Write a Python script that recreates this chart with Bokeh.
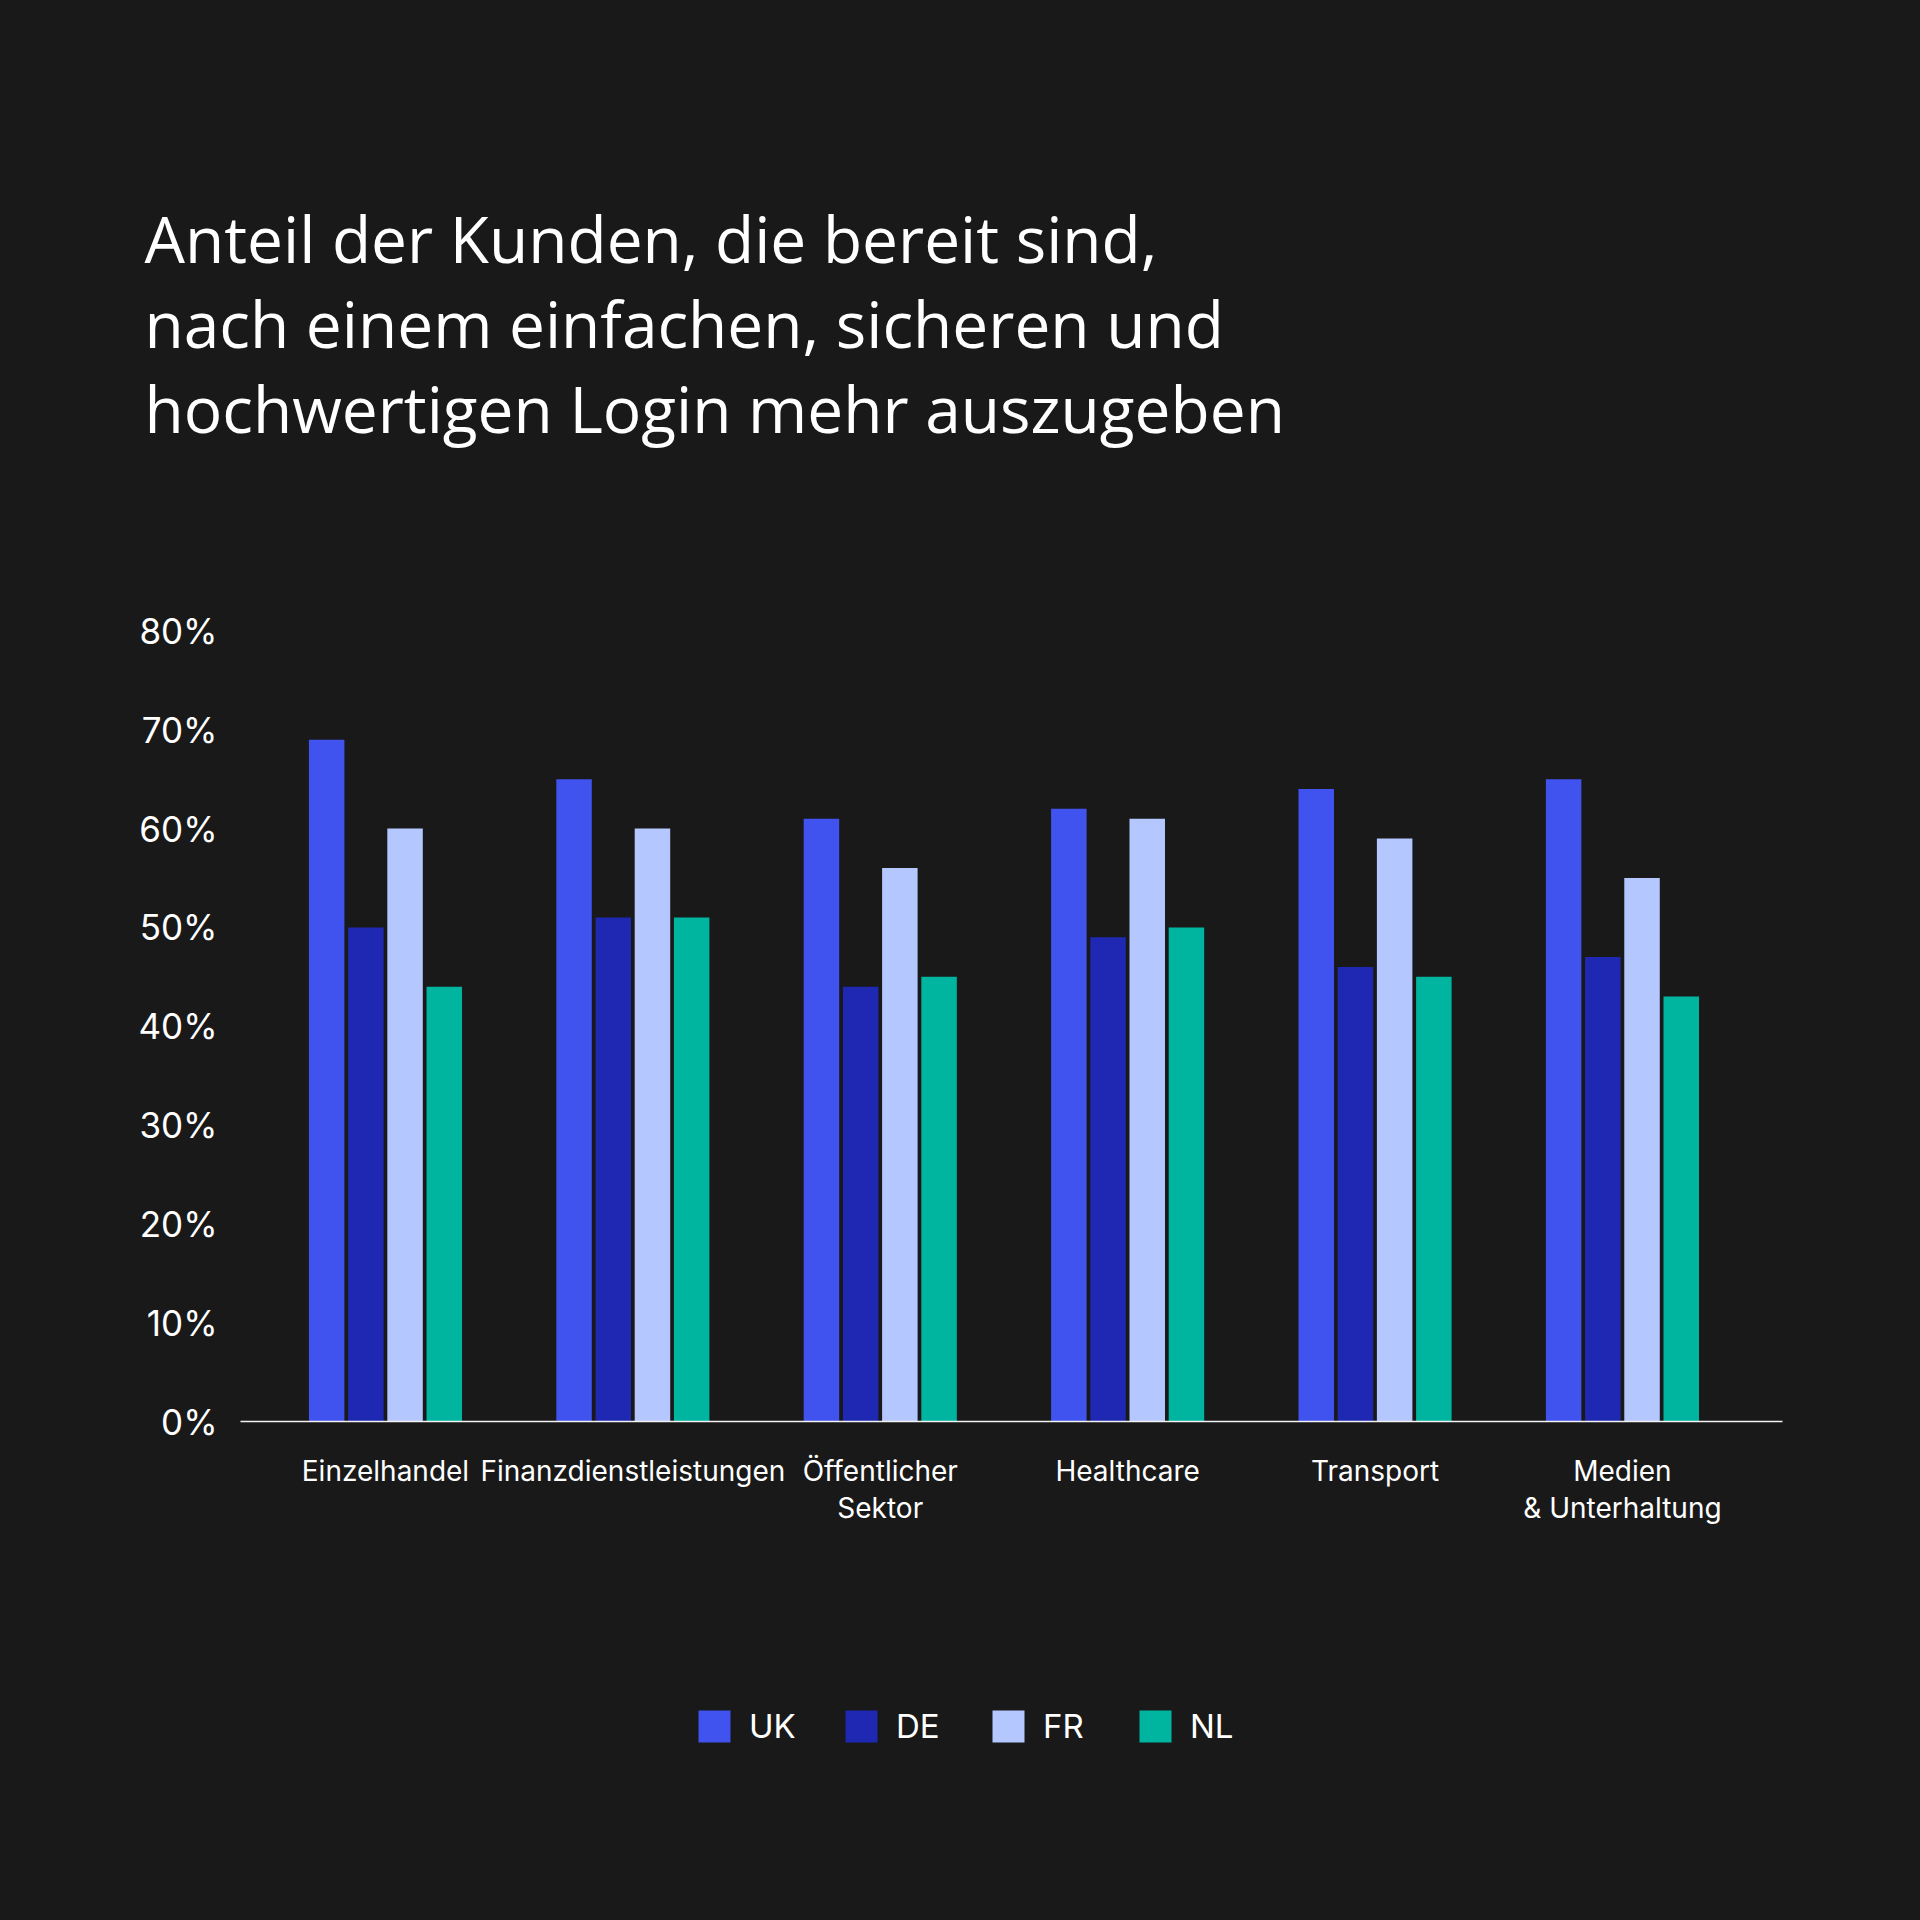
from bokeh.plotting import figure
from bokeh.layouts import column
from bokeh.models import Range1d, FixedTicker, Legend, LegendItem, Title, ColumnDataSource
from bokeh.transform import dodge
from bokeh.embed import file_html
from bokeh.resources import INLINE

# ---- data ----
categories = ["Einzelhandel", "Finanzdienstleistungen", "Öffentlicher\nSektor",
              "Healthcare", "Transport", "Medien\n& Unterhaltung"]
series = ["UK", "DE", "FR", "NL"]
uk = [69, 65, 61, 62, 64, 65]
de = [50, 51, 44, 49, 46, 47]
fr = [60, 60, 56, 61, 59, 55]
nl = [44, 51, 45, 50, 45, 43]
y_ticks = [0, 10, 20, 30, 40, 50, 60, 70, 80]
y_tick_labels = ["0%", "10%", "20%", "30%", "40%", "50%", "60%", "70%", "80%"]
title_lines = ["Anteil der Kunden, die bereit sind,",
               "nach einem einfachen, sicheren und",
               "hochwertigen Login mehr auszugeben"]

colors = ["#4053ee", "#1f28b3", "#b4c7ff", "#00b5a0"]
BG = "#191919"

xs = list(range(len(categories)))
source = ColumnDataSource(dict(x=xs, UK=uk, DE=de, FR=fr, NL=nl))

H1 = 1600
p = figure(width=1920, height=H1, output_backend="svg", toolbar_location=None,
           x_range=Range1d(-0.586, 5.647), y_range=Range1d(0, 98.36),
           min_border_left=240, min_border_right=138,
           min_border_top=449, min_border_bottom=H1 - 1421)
p.background_fill_color = BG
p.border_fill_color = BG
p.outline_line_color = None
p.styles = {"background-color": BG}
p.xgrid.visible = False
p.ygrid.visible = False

offsets = [-0.2377, -0.0792, 0.0792, 0.2377]
for s, c, off in zip(series, colors, offsets):
    p.vbar(x=dodge("x", off, range=p.x_range), top=s, width=0.1435,
           source=source, fill_color=c, line_color=None)

# x axis
p.xaxis.ticker = FixedTicker(ticks=xs)
p.xaxis.major_label_overrides = {x: c for x, c in zip(xs, categories)}
p.xaxis.major_tick_line_color = None
p.xaxis.minor_tick_line_color = None
p.xaxis.axis_line_color = "#f2f2f2"
p.xaxis.axis_line_width = 1.6
p.xaxis.major_label_standoff = 26
p.xaxis.major_label_text_font = "Inter"
p.xaxis.major_label_text_font_size = "28px"
p.xaxis.major_label_text_color = "#ffffff"
p.xaxis.major_label_text_line_height = 1.09

# y axis
p.yaxis.ticker = FixedTicker(ticks=y_ticks)
p.yaxis.major_label_overrides = {t: l for t, l in zip(y_ticks, y_tick_labels)}
p.yaxis.axis_line_color = None
p.yaxis.major_tick_line_color = None
p.yaxis.minor_tick_line_color = None
p.yaxis.major_label_standoff = 17
p.yaxis.major_label_text_font = "Inter"
p.yaxis.major_label_text_font_size = "35px"
p.yaxis.major_label_text_color = "#ffffff"

# title: three lines stacked above the frame (closest line added first)
for line in reversed(title_lines):
    p.add_layout(Title(text=line, align="left", offset=-96, standoff=-4.5,
                       text_font="Open Sans", text_font_size="64px",
                       text_font_style="normal", text_color="#ffffff"), "above")

# legend in its own strip below the chart (frames of the column are aligned)
H2 = 1920 - H1
q = figure(width=1920, height=H2, output_backend="svg", toolbar_location=None,
           x_range=Range1d(0, 1), y_range=Range1d(0, 1),
           min_border_left=0, min_border_right=0, min_border_top=0, min_border_bottom=0)
q.background_fill_color = BG
q.border_fill_color = BG
q.outline_line_color = None
q.styles = {"background-color": BG}
q.axis.visible = False
q.grid.visible = False
legend_renderers = []
for s, c, off in zip(series, colors, offsets):
    r = q.vbar(x=dodge("x", off, range=q.x_range), top=s, width=0.1435,
               source=source, fill_color=c, line_color=None, visible=False)
    legend_renderers.append(r)

legend = Legend(items=[LegendItem(label=s, renderers=[r]) for s, r in zip(series, legend_renderers)],
                orientation="horizontal", location=(454, 174),
                glyph_width=40, glyph_height=40, label_standoff=15, spacing=22,
                label_width=70, padding=0, margin=0,
                border_line_color=None, background_fill_alpha=0,
                inactive_fill_alpha=0, click_policy="none",
                label_text_color="#ffffff", label_text_font="Inter",
                label_text_font_size="33px")
q.add_layout(legend, "center")

layout = column(p, q, spacing=0)
layout.styles = {"background-color": BG}
open("out.html", "w").write(file_html(layout, INLINE))
